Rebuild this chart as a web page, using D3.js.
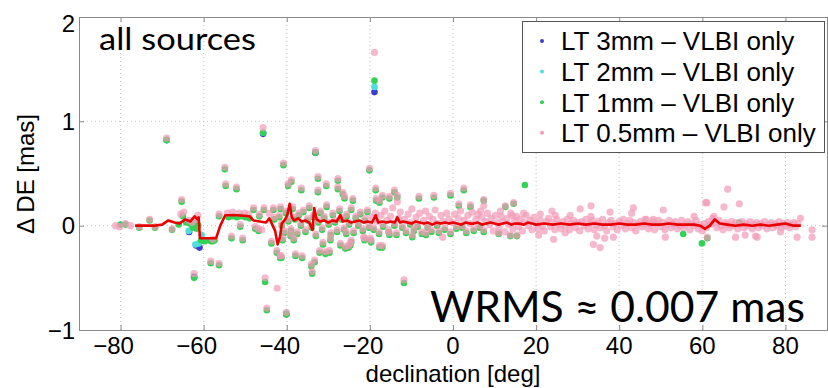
<!DOCTYPE html>
<html lang="en">
<head>
<meta charset="UTF-8">
<title>Delta DE vs declination</title>
<script src="https://d3js.org/d3.v7.min.js"></script>
<style>
  body { margin: 0; background: #fff; }
  svg { display: block; }
  .tick-label { font-family: "Liberation Sans", Arial, sans-serif; font-size: 24px; fill: #000; }
  .axis-title { font-family: "Liberation Sans", Arial, sans-serif; font-size: 24px; fill: #000; }
  .legend-text { font-family: "Liberation Sans", Arial, sans-serif; font-size: 26px; fill: #000; }
  .note { font-family: Lato, "Open Sans", sans-serif; font-weight: 400; fill: #000; }
</style>
</head>
<body>
<div id="chart"></div>
<script>
// [declination deg, delta DE mas]
const lt3 = [
  [-18.9, 1.28], [-63.5, -0.06], [-61.8, -0.19], [-61.0, -0.21], [-62.3, -0.49],
  [-45.7, 0.88], [-68.9, 0.82], [-40.1, -0.85], [-33.1, 0.70]
];
const lt2 = [
  [-18.9, 1.33], [-63.6, -0.05], [-62.0, -0.18], [-61.2, -0.17], [-60.5, -0.09],
  [-45.7, 0.89], [-68.9, 0.82], [-40.1, -0.84]
];
const lt1 = [
  [-18.9, 1.39], [-80.0, 0.01], [-78.8, 0.01], [-75.5, -0.02], [-73.0, 0.05], [-71.7, -0.02],
  [-68.9, 0.82], [-67.6, -0.04], [-65.3, 0.23], [-65.0, 0.09], [-66.0, 0.01], [-64.2, 0.03],
  [-63.5, 0.03], [-63.0, 0.01], [-62.6, -0.02], [-62.1, 0.02], [-61.7, -0.03], [-61.3, 0.00],
  [-62.3, -0.50], [-60.6, -0.14], [-59.8, -0.15], [-59.0, -0.14], [-58.2, -0.15], [-57.4, -0.14],
  [-58.3, -0.36], [-56.3, -0.38], [-57.8, -0.15], [-56.3, 0.09], [-54.9, 0.54], [-54.7, 0.38],
  [-52.1, 0.35], [-53.3, -0.12], [-51.2, -0.01], [-50.6, -0.14], [-54.0, 0.08], [-53.0, 0.09],
  [-52.0, 0.08], [-51.0, 0.09], [-50.0, 0.08], [-49.0, 0.07], [-48.0, 0.15], [-47.6, -0.03],
  [-46.8, -0.05], [-46.6, 0.09], [-45.5, 0.15], [-43.2, 0.15], [-41.5, 0.16], [-45.2, -0.54],
  [-45.7, 0.89], [-44.8, -0.81], [-43.7, -0.17], [-42.4, -0.26], [-41.6, -0.31], [-43.0, 0.06],
  [-40.8, 0.58], [-39.7, 0.38], [-38.9, 0.42], [-36.5, 0.34], [-33.1, 0.70], [-32.5, 0.45],
  [-32.5, 0.32], [-30.5, 0.38], [-27.7, 0.43], [-27.7, 0.35], [-26.5, 0.30], [-26.1, 0.26],
  [-24.1, 0.24], [-20.1, 0.53], [-18.6, 0.34], [-18.5, 0.24], [-17.7, 0.22], [-17.0, 0.27],
  [-15.3, 0.26], [-14.1, 0.32], [-13.4, 0.27], [-8.2, 0.26], [-4.6, 0.27], [-0.6, 0.29],
  [2.6, 0.34], [1.4, 0.19], [4.2, 0.18], [17.3, 0.39], [7.4, 0.24],
  [-41.3, -0.31], [-37.9, -0.29], [-36.3, -0.31], [-34.1, -0.39], [-33.9, -0.46], [-33.3, -0.35],
  [-32.1, -0.26], [-30.7, -0.27], [-29.7, -0.26], [-25.1, -0.21], [-24.5, -0.16], [-17.7, -0.21],
  [-17.0, -0.21], [-19.7, -0.16], [-40.1, -0.85], [-11.8, -0.55], [-41.0, -0.14], [-39.1, -0.10],
  [-38.3, -0.14], [-31.3, -0.18], [-29.5, -0.14], [-27.1, -0.19], [-25.9, -0.22], [-24.7, -0.19],
  [-25.7, -0.08], [-21.3, -0.14], [-19.9, -0.14], [-15.3, -0.09], [-9.8, -0.11], [-6.5, -0.09],
  [-41.8, 0.08], [-41.2, 0.00], [-40.6, -0.07], [-40.2, 0.12], [-39.6, 0.04], [-39.0, -0.05],
  [-38.6, 0.16], [-38.0, 0.06], [-37.5, -0.08], [-37.1, 0.10], [-36.6, 0.00], [-36.0, 0.13],
  [-35.5, -0.06], [-35.0, 0.05], [-34.6, 0.17], [-34.0, -0.02], [-33.6, 0.08], [-33.0, -0.10],
  [-32.4, 0.03], [-31.9, 0.12], [-31.5, -0.04], [-31.0, 0.07], [-30.4, 0.18], [-29.9, 0.01],
  [-29.4, -0.09], [-28.9, 0.10], [-28.4, 0.03], [-27.9, -0.06], [-27.3, 0.14], [-26.8, 0.06],
  [-26.2, -0.04], [-25.6, 0.09], [-25.0, 0.01], [-24.5, 0.15], [-23.9, -0.07], [-23.4, 0.07],
  [-22.8, 0.00], [-22.3, 0.11], [-21.7, -0.05], [-21.2, 0.05], [-20.6, 0.13], [-20.2, -0.02],
  [-19.1, -0.04], [-17.8, -0.08], [-16.8, -0.01], [-15.5, -0.06], [-14.1, 0.00], [-13.6, -0.09],
  [-12.2, -0.02], [-11.3, -0.07], [-10.3, 0.01], [-9.4, -0.05], [-8.5, -0.01], [-7.5, -0.08],
  [-6.1, -0.02], [-5.2, -0.06], [-3.8, 0.00], [-3.4, -0.07], [-2.0, -0.04], [-0.6, -0.08],
  [0.8, -0.03], [2.2, -0.02], [3.2, -0.07], [5.0, -0.05], [6.4, -0.02], [7.4, -0.06],
  [11.0, -0.08], [13.8, -0.10], [15.4, -0.10], [12.6, 0.18], [14.6, 0.21],
  [55.4, -0.08], [59.9, -0.17], [68.9, 0.03], [61.2, -0.12]
];
const lt05 = [
  [-18.9, 1.66], [-81.2, 0.00], [-80.2, -0.01], [-78.8, 0.02], [-77.6, 0.00], [-75.5, -0.01],
  [-73.0, 0.06], [-71.7, -0.01], [-68.9, 0.84], [-67.6, -0.03], [-65.3, 0.25], [-65.5, 0.11],
  [-64.8, 0.13], [-63.5, 0.05], [-62.3, -0.46], [-61.4, 0.10], [-62.8, 0.03], [-61.8, 0.06],
  [-58.3, -0.34], [-56.3, -0.36], [-57.8, -0.13], [-56.3, 0.11], [-54.9, 0.56], [-54.7, 0.40],
  [-52.1, 0.37], [-53.3, -0.10], [-51.2, 0.01], [-50.6, -0.12], [-54.3, 0.12], [-53.0, 0.13],
  [-51.5, 0.12], [-50.2, 0.12], [-49.2, 0.11], [-48.0, 0.17], [-47.6, -0.01], [-46.8, -0.03],
  [-46.0, -0.04], [-46.6, 0.11], [-45.5, 0.17], [-43.2, 0.17], [-41.5, 0.18], [-45.2, -0.50],
  [-45.7, 0.94], [-44.8, -0.79], [-43.7, -0.15], [-42.4, -0.24], [-41.6, -0.29], [-42.3, -0.60],
  [-43.0, 0.08], [-44.2, 0.12],
  [-40.8, 0.60], [-39.7, 0.40], [-38.9, 0.44], [-36.5, 0.36], [-33.1, 0.72], [-32.5, 0.47],
  [-32.5, 0.34], [-30.5, 0.40], [-27.7, 0.45], [-27.7, 0.37], [-26.5, 0.32], [-26.1, 0.28],
  [-24.1, 0.26], [-20.1, 0.55], [-18.6, 0.36], [-18.5, 0.26], [-17.7, 0.24], [-17.0, 0.29],
  [-15.3, 0.28], [-14.1, 0.34], [-13.4, 0.29], [-13.4, 0.23], [-8.2, 0.28], [-4.6, 0.29],
  [-0.6, 0.31], [2.6, 0.36], [1.4, 0.21], [4.2, 0.20],
  [-41.3, -0.29], [-37.9, -0.27], [-36.3, -0.29], [-34.1, -0.37], [-33.9, -0.44], [-33.3, -0.33],
  [-32.1, -0.24], [-30.7, -0.25], [-29.7, -0.24], [-25.1, -0.19], [-24.5, -0.14], [-17.7, -0.19],
  [-17.0, -0.19], [-19.7, -0.14], [-40.1, -0.83], [-11.8, -0.52], [-41.0, -0.12], [-39.1, -0.08],
  [-38.3, -0.12], [-31.3, -0.16], [-29.5, -0.12], [-27.1, -0.17], [-25.9, -0.20], [-24.7, -0.17],
  [-25.7, -0.06], [-21.3, -0.12], [-21.5, -0.11], [-19.9, -0.12], [-15.3, -0.07], [-9.8, -0.09],
  [-6.5, -0.07],
  [-41.8, 0.10], [-41.2, 0.02], [-40.6, -0.05], [-40.2, 0.14], [-39.6, 0.06], [-39.0, -0.03],
  [-38.6, 0.18], [-38.0, 0.08], [-37.5, -0.06], [-37.1, 0.12], [-36.6, 0.02], [-36.0, 0.15],
  [-35.5, -0.04], [-35.0, 0.07], [-34.6, 0.19], [-34.0, 0.00], [-33.6, 0.10], [-33.0, -0.08],
  [-32.4, 0.05], [-31.9, 0.14], [-31.5, -0.02], [-31.0, 0.09], [-30.4, 0.20], [-29.9, 0.03],
  [-29.4, -0.07], [-28.9, 0.12], [-28.4, 0.05], [-27.9, -0.04], [-27.3, 0.16], [-26.8, 0.08],
  [-26.2, -0.02], [-25.6, 0.11], [-25.0, 0.03], [-24.5, 0.17], [-23.9, -0.05], [-23.4, 0.09],
  [-22.8, 0.02], [-22.3, 0.13], [-21.7, -0.03], [-21.2, 0.07], [-20.6, 0.15], [-20.2, 0.00],
  [-19.6, 0.08], [-19.1, -0.02], [-18.7, 0.12], [-18.2, 0.04], [-17.8, -0.06], [-17.3, 0.10],
  [-16.8, 0.01], [-16.4, 0.14], [-15.9, 0.05], [-15.5, -0.04], [-15.0, 0.09], [-14.5, 0.17],
  [-14.1, 0.02], [-13.6, -0.07], [-13.1, 0.07], [-12.7, 0.13], [-12.2, 0.00], [-11.7, 0.06],
  [-11.3, -0.05], [-10.8, 0.11], [-10.3, 0.03], [-9.9, 0.16], [-9.4, -0.03], [-8.9, 0.08],
  [-8.5, 0.01], [-8.0, 0.12], [-7.5, -0.06], [-7.1, 0.05], [-6.6, 0.14], [-6.1, 0.00],
  [-5.7, 0.09], [-5.2, -0.04], [-4.8, 0.06], [-4.3, 0.15], [-3.8, 0.02], [-3.4, -0.05],
  [-2.9, 0.10], [-2.4, 0.04], [-2.0, -0.02], [-1.5, 0.12], [-1.0, 0.06], [-0.6, -0.06],
  [-0.1, 0.03], [0.4, 0.11], [0.8, -0.01], [1.3, 0.07], [1.8, 0.14], [2.2, 0.00],
  [2.7, 0.05], [3.2, -0.05], [3.6, 0.10], [4.1, 0.02], [4.6, 0.13], [5.0, -0.03],
  [5.5, 0.06], [6.0, 0.11], [6.4, 0.00], [6.9, 0.08], [7.4, -0.04], [7.8, 0.04],
  [8.3, 0.12], [8.8, 0.01], [9.2, 0.07], [9.7, -0.05], [10.2, 0.10], [10.6, 0.03],
  [11.1, -0.02], [11.6, 0.09], [12.0, 0.04], [12.5, -0.06], [13.0, 0.07], [13.4, 0.01],
  [13.9, 0.12], [14.4, -0.03], [14.8, 0.05], [15.3, 0.09], [15.8, -0.01], [16.2, 0.06],
  [16.7, -0.05], [17.2, 0.03], [17.6, 0.10], [18.1, 0.00], [18.6, 0.05], [19.0, -0.04],
  [19.5, 0.08],
  [7.4, 0.25], [6.6, 0.14], [7.4, 0.19], [12.6, 0.19], [11.4, 0.14], [14.6, 0.22],
  [14.2, 0.10], [17.0, 0.12], [11.0, -0.07], [13.8, -0.09], [15.4, -0.09], [-2.5, -0.11],
  [20.0, 0.02], [20.5, -0.03], [21.0, 0.05], [21.5, 0.00], [22.0, -0.05], [22.5, 0.04],
  [23.0, 0.07], [23.5, -0.01], [24.0, 0.03], [24.5, -0.04], [25.0, 0.06], [25.5, 0.01],
  [26.0, -0.03], [26.5, 0.04], [27.0, 0.00], [27.5, 0.06], [28.0, -0.04], [28.5, 0.02],
  [29.0, 0.05], [29.5, -0.02], [30.0, 0.03], [30.5, -0.05], [31.0, 0.04], [31.5, 0.00],
  [32.0, 0.06], [32.5, -0.03], [33.0, 0.02], [33.5, 0.05], [34.0, -0.04], [34.5, 0.01],
  [35.0, 0.04], [35.5, -0.02], [36.0, 0.06], [36.5, 0.00], [37.0, -0.05], [37.5, 0.03],
  [38.0, 0.05], [38.5, -0.01], [39.0, 0.02], [39.5, -0.04], [40.0, 0.04], [40.5, 0.00],
  [41.0, 0.06], [41.5, -0.03], [42.0, 0.02], [42.5, 0.05], [43.0, -0.02], [43.5, 0.03],
  [44.0, -0.05], [44.5, 0.01], [45.0, 0.04], [45.5, -0.01], [46.0, 0.02], [46.5, 0.06],
  [47.0, -0.03], [47.5, 0.01], [48.0, 0.04], [48.5, -0.04], [49.0, 0.02], [49.5, 0.05],
  [50.0, -0.01], [50.5, 0.03], [51.0, -0.04], [51.5, 0.01], [52.0, 0.05], [52.5, -0.02],
  [53.0, 0.02], [53.5, 0.04], [54.0, -0.03], [54.5, 0.00], [55.0, 0.05], [55.5, -0.02],
  [56.0, 0.01], [56.5, 0.04], [57.0, -0.04], [57.5, 0.02], [58.0, 0.00], [58.5, 0.05],
  [59.0, -0.03], [59.5, 0.01], [60.0, -0.05], [60.5, 0.02], [61.0, -0.02], [61.5, 0.04],
  [62.0, 0.01], [62.5, 0.07], [63.0, 0.03], [63.5, -0.02], [64.0, 0.05], [64.5, 0.00],
  [65.0, -0.04], [65.5, 0.03], [66.0, 0.01], [66.5, -0.02], [67.0, 0.04], [67.5, 0.00],
  [68.0, 0.03], [68.5, -0.03], [69.0, 0.01], [69.5, 0.04], [70.0, -0.02], [70.5, 0.02],
  [71.0, 0.00], [71.5, 0.04], [72.0, -0.03], [72.5, 0.01], [73.0, 0.03], [73.5, -0.02],
  [74.0, 0.02], [74.5, 0.00], [75.0, 0.04], [75.5, -0.03], [76.0, 0.01], [76.5, 0.03],
  [77.0, -0.02], [77.5, 0.02], [78.0, 0.00], [78.5, 0.04], [79.0, -0.02], [79.5, 0.02],
  [80.0, 0.00], [80.5, 0.03], [81.0, -0.02], [81.5, 0.01], [82.0, 0.03], [82.5, -0.01],
  [83.0, 0.02], [83.6, 0.07],
  [21.0, 0.11], [23.8, 0.14], [24.6, 0.10], [28.2, 0.10], [30.6, 0.16], [33.2, 0.19],
  [33.2, 0.09], [37.8, 0.13], [43.4, 0.17], [43.0, 0.12], [50.6, 0.15], [46.2, 0.06],
  [48.2, 0.06], [24.2, -0.13], [27.0, -0.07], [33.8, -0.18], [35.4, -0.21], [34.6, -0.10],
  [36.5, -0.12], [38.6, -0.11], [51.1, -0.11], [20.6, -0.09], [66.1, 0.35], [68.9, 0.21],
  [61.1, 0.22], [65.2, 0.18], [58.0, 0.09], [62.8, 0.09], [86.4, -0.04], [86.4, -0.11],
  [82.8, -0.11], [78.8, -0.06], [72.8, -0.10], [73.2, -0.11], [68.0, -0.11], [70.3, -0.09],
  [61.2, -0.11], [60.8, 0.22]
];
// running median
const medianLine = [
  [-76.5, 0.00], [-72.0, 0.00], [-70.0, 0.01], [-68.5, 0.05], [-67.0, 0.03], [-65.8, 0.02],
  [-64.5, 0.06], [-63.2, 0.04], [-62.2, 0.09], [-61.5, 0.06], [-61.2, 0.08], [-60.9, -0.12],
  [-57.0, -0.12], [-56.0, 0.00], [-54.8, 0.10], [-52.0, 0.10], [-49.0, 0.09], [-48.0, 0.05],
  [-46.5, 0.04], [-45.0, 0.03], [-44.2, 0.07], [-43.6, 0.02], [-42.8, -0.05], [-42.2, -0.18],
  [-41.6, -0.10], [-41.2, 0.02], [-40.4, 0.06], [-39.9, 0.10], [-39.3, 0.21], [-38.8, 0.08],
  [-38.2, 0.05], [-37.3, 0.07], [-36.4, 0.04], [-35.5, 0.05], [-34.6, 0.03], [-33.8, -0.04],
  [-33.4, 0.17], [-32.8, 0.06], [-32.0, 0.04], [-31.0, 0.05], [-30.0, 0.03], [-29.0, 0.05],
  [-28.0, 0.04], [-27.1, 0.10], [-26.5, 0.04], [-25.5, 0.05], [-24.5, 0.03], [-23.5, 0.04],
  [-22.5, 0.05], [-21.5, 0.03], [-20.5, 0.04], [-19.5, 0.03], [-18.6, 0.10], [-18.0, 0.03],
  [-17.0, 0.04], [-16.0, 0.03], [-15.0, 0.04], [-14.0, 0.03], [-13.4, 0.08], [-12.8, 0.03],
  [-12.0, 0.04], [-11.0, 0.03], [-10.0, 0.02], [-9.0, 0.04], [-8.0, 0.03], [-7.0, 0.02],
  [-6.0, 0.03], [-5.0, 0.01], [-4.0, 0.03], [-3.0, 0.02], [-2.0, 0.03], [-1.0, 0.02],
  [0.0, 0.03], [1.0, 0.02], [2.0, 0.01], [3.0, 0.03], [4.0, 0.02], [5.0, 0.02],
  [6.0, 0.03], [7.0, 0.01], [8.0, 0.02], [9.0, 0.03], [10.0, 0.02], [11.0, 0.01],
  [12.0, 0.02], [13.0, 0.03], [14.0, 0.01], [15.0, 0.02], [16.0, 0.02], [17.0, 0.01],
  [18.0, 0.03], [19.0, 0.02], [20.0, 0.01], [22.0, 0.02], [24.0, 0.01], [26.0, 0.02],
  [28.0, 0.01], [30.0, 0.02], [32.0, 0.01], [34.0, 0.02], [36.0, 0.01], [38.0, 0.01],
  [40.0, 0.02], [42.0, 0.01], [44.0, 0.01], [46.0, 0.02], [48.0, 0.01], [50.0, 0.01],
  [52.0, 0.02], [54.0, 0.01], [56.0, 0.01], [58.0, 0.01], [59.5, 0.00], [60.6, -0.03],
  [61.8, 0.00], [63.0, 0.06], [64.2, 0.02], [66.0, 0.01], [68.0, 0.00], [70.0, 0.01],
  [72.0, 0.00], [74.0, 0.01], [76.0, 0.00], [78.0, 0.01], [80.0, 0.02], [82.0, 0.00],
  [83.7, 0.00]
];
const xTicks = [-80, -60, -40, -20, 0, 20, 40, 60, 80];
const yTicks = [-1, 0, 1, 2];
const legendLabels = ["LT 3mm \u2013 VLBI only", "LT 2mm \u2013 VLBI only", "LT 1mm \u2013 VLBI only", "LT 0.5mm \u2013 VLBI only"];

const width = 828, height = 388;
const plot = { left: 79, right: 827, top: 17, bottom: 330 };
const colors = { lt3: "#3b3bcc", lt2: "#4fdede", lt1: "#33d255", lt05: "#f29ab6" };

const svg = d3.select("#chart").append("svg")
  .attr("width", width).attr("height", height);

const x = d3.scaleLinear().domain([-90, 90]).range([plot.left, plot.right]);
const y = d3.scaleLinear().domain([-1, 2]).range([plot.bottom, plot.top]);

// dotted grid
svg.append("g").selectAll("line").data(xTicks).join("line")
  .attr("x1", d => x(d)).attr("x2", d => x(d))
  .attr("y1", plot.top).attr("y2", plot.bottom)
  .attr("stroke", "#c4c4c4").attr("stroke-dasharray", "1,3");
svg.append("g").selectAll("line").data(yTicks.slice(1, -1)).join("line")
  .attr("x1", plot.left).attr("x2", plot.right)
  .attr("y1", d => y(d)).attr("y2", d => y(d))
  .attr("stroke", "#c4c4c4").attr("stroke-dasharray", "1,3");

// axes box with inward ticks
const axisColor = "#8a8a8a";
svg.append("g").attr("transform", `translate(0,${plot.bottom})`)
  .call(d3.axisBottom(x).tickValues(xTicks).tickSize(-5).tickFormat(""))
  .call(g => g.selectAll("path, line").attr("stroke", axisColor));
svg.append("g").attr("transform", `translate(0,${plot.top})`)
  .call(d3.axisTop(x).tickValues(xTicks).tickSize(-5).tickFormat(""))
  .call(g => g.selectAll("path, line").attr("stroke", axisColor));
svg.append("g").attr("transform", `translate(${plot.left},0)`)
  .call(d3.axisLeft(y).tickValues(yTicks).tickSize(-5).tickFormat(""))
  .call(g => g.selectAll("path, line").attr("stroke", axisColor));
svg.append("g").attr("transform", `translate(${plot.right},0)`)
  .call(d3.axisRight(y).tickValues(yTicks).tickSize(-5).tickFormat(""))
  .call(g => g.selectAll("path, line").attr("stroke", axisColor));

// tick labels (minus sign hangs left of the digits, as in MATLAB)
svg.append("g").selectAll("text").data(xTicks).join("text")
  .attr("class", "tick-label")
  .attr("x", d => x(d)).attr("y", 354)
  .attr("dx", d => d < 0 ? -7 : 0)
  .attr("text-anchor", "middle")
  .text(d => d < 0 ? "\u2212" + Math.abs(d) : d);
svg.append("g").selectAll("text").data(yTicks).join("text")
  .attr("class", "tick-label")
  .attr("font-size", 25)
  .attr("x", 75).attr("y", d => Math.max(y(d), 23))
  .attr("dy", "0.36em")
  .attr("text-anchor", "end")
  .text(d => d < 0 ? "\u2212" + Math.abs(d) : d);

svg.append("text").attr("class", "axis-title")
  .attr("x", x(0)).attr("y", 382).attr("text-anchor", "middle")
  .text("declination [deg]");
svg.append("text").attr("class", "axis-title")
  .attr("transform", "translate(34,174) rotate(-90)")
  .attr("font-size", 26)
  .attr("text-anchor", "middle")
  .text("\u0394 DE [mas]");

// scatter series, drawn in the original order
const series = [
  { data: lt3, color: colors.lt3, op: 1, r: 3.3 },
  { data: lt2, color: colors.lt2, op: 1, r: 3.3 },
  { data: lt1, color: colors.lt1, op: 1, r: 3.3 },
  { data: lt05, color: colors.lt05, op: 0.7, r: 3.6 }
];
series.forEach(s => {
  svg.append("g").selectAll("circle").data(s.data).join("circle")
    .attr("cx", d => x(d[0])).attr("cy", d => y(d[1]))
    .attr("r", s.r)
    .attr("fill", s.color).attr("fill-opacity", s.op);
});

svg.append("path").datum(medianLine)
  .attr("fill", "none").attr("stroke", "#e80000").attr("stroke-width", 2.6)
  .attr("stroke-linejoin", "round")
  .attr("d", d3.line().x(d => x(d[0])).y(d => y(d[1])));

// legend
const legend = svg.append("g");
legend.append("rect")
  .attr("x", 522.5).attr("y", 21.5).attr("width", 302).attr("height", 131)
  .attr("fill", "#fff").attr("stroke", "#555");
const legendColors = [colors.lt3, colors.lt2, colors.lt1, colors.lt05];
legend.selectAll("circle").data(legendLabels).join("circle")
  .attr("cx", 542).attr("cy", (d, i) => 41 + i * 30.6)
  .attr("r", 2).attr("fill", (d, i) => legendColors[i]);
legend.selectAll("text").data(legendLabels).join("text")
  .attr("class", "legend-text")
  .attr("x", 561).attr("y", (d, i) => 41 + i * 30.6).attr("dy", "0.36em")
  .text(d => d);

// annotations
svg.append("text").attr("class", "note")
  .attr("x", 99).attr("y", 50).attr("font-size", 31)
  .attr("textLength", 157).attr("lengthAdjust", "spacingAndGlyphs")
  .text("all sources");
svg.append("text").attr("class", "note")
  .attr("x", 430).attr("y", 322).attr("font-size", 43)
  .attr("textLength", 375).attr("lengthAdjust", "spacingAndGlyphs")
  .text("WRMS \u2248 0.007 mas");
</script>
</body>
</html>
